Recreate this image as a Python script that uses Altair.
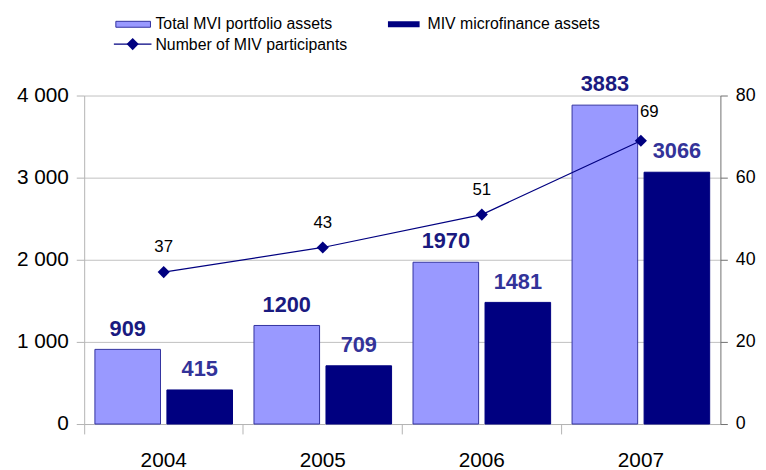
import altair as alt
import pandas as pd

years = ["2004", "2005", "2006", "2007"]
total_assets = [909, 1200, 1970, 3883]
micro_assets = [415, 709, 1481, 3066]
participants = [37, 43, 51, 69]
series_names = ["Total MVI portfolio assets", "MIV microfinance assets"]
line_name = "Number of MIV participants"

LIGHT = "#9999FF"
DARK = "#000080"
FONT = "Liberation Sans"

bars_df = pd.DataFrame(
    [{"year": y, "series": series_names[0], "value": v} for y, v in zip(years, total_assets)]
    + [{"year": y, "series": series_names[1], "value": v} for y, v in zip(years, micro_assets)]
)
line_df = pd.DataFrame({"year": years, "participants": participants})

x_enc = alt.X(
    "year:N",
    sort=years,
    scale=alt.Scale(paddingInner=0, paddingOuter=0),
    axis=alt.Axis(
        title=None, labelAngle=0, labelFontSize=21, labelColor="black", labelFont=FONT,
        bandPosition=0, tickSize=10, tickColor="#b3b3b3", domainColor="#b3b3b3",
        labelPadding=16, grid=False,
    ),
)
xoff = alt.XOffset("series:N", sort=series_names,
                   scale=alt.Scale(paddingInner=0.089, paddingOuter=0.149))

left_axis = alt.Axis(
    title=None, values=[0, 1000, 2000, 3000, 4000], labelFontSize=21, labelColor="black",
    labelFont=FONT, labelExpr="replace(format(datum.value, ','), ',', ' ')",
    tickSize=8, tickColor="#b3b3b3", domainColor="#b3b3b3", labelPadding=8,
    grid=True, gridColor="#c0c0c0",
)
right_axis = alt.Axis(
    title=None, orient="right", values=[0, 20, 40, 60, 80], labelFontSize=18,
    labelColor="black", labelFont=FONT, tickSize=7, tickColor="#6f6f6f",
    domainColor="#6f6f6f", labelPadding=8, grid=False,
)

bars_base = alt.Chart(bars_df).encode(
    x=x_enc,
    xOffset=xoff,
    y=alt.Y("value:Q", scale=alt.Scale(domain=[0, 4000]), axis=left_axis),
)

bars = bars_base.mark_bar(strokeWidth=1).encode(
    color=alt.Color("series:N", sort=series_names,
                    scale=alt.Scale(domain=series_names, range=[LIGHT, DARK]), legend=None),
    stroke=alt.Stroke("series:N", sort=series_names,
                      scale=alt.Scale(domain=series_names, range=["#3333a0", DARK]), legend=None),
)

bar_labels = bars_base.mark_text(
    baseline="bottom", dy=-9, fontSize=22, fontWeight="bold", font=FONT
).encode(
    text="value:Q",
    color=alt.condition(f"datum.series == '{series_names[0]}'", alt.value("#1a1a80"), alt.value("#333399")),
)

left = alt.layer(bars, bar_labels)

line_base = alt.Chart(line_df).encode(
    x=alt.X("year:N", sort=years),
    y=alt.Y("participants:Q", scale=alt.Scale(domain=[0, 80]), axis=right_axis),
)

line = line_base.mark_line(color=DARK, strokeWidth=1.2)
points = line_base.mark_point(shape="diamond", filled=True, color=DARK, size=150, opacity=1)
line_labels = line_base.transform_filter("datum.year != '2007'").mark_text(
    baseline="middle", dy=-25, fontSize=17, font=FONT, color="black"
).encode(text="participants:Q")
last_label = line_base.transform_filter("datum.year == '2007'").mark_text(
    baseline="middle", align="left", dy=-29, dx=-1, fontSize=17, font=FONT, color="black"
).encode(text="participants:Q")

right = alt.layer(line, points, line_labels, last_label)

one = alt.Data(values=[{}])
LEG_FS = 16
leg_rect1 = alt.Chart(one).mark_rect(color=LIGHT, stroke="#3333a0", strokeWidth=1).encode(
    x=alt.value(32), x2=alt.value(67), y=alt.value(-75), y2=alt.value(-69))
leg_text1 = alt.Chart(one).mark_text(align="left", baseline="middle", fontSize=LEG_FS, font=FONT, color="black").encode(
    x=alt.value(72), y=alt.value(-72), text=alt.value(series_names[0]))
leg_rect2 = alt.Chart(one).mark_rect(color=DARK).encode(
    x=alt.value(307), x2=alt.value(339), y=alt.value(-75), y2=alt.value(-69))
leg_text2 = alt.Chart(one).mark_text(align="left", baseline="middle", fontSize=LEG_FS, font=FONT, color="black").encode(
    x=alt.value(347), y=alt.value(-72), text=alt.value(series_names[1]))
leg_line = alt.Chart(one).mark_rule(color=DARK, strokeWidth=1.2).encode(
    x=alt.value(30), x2=alt.value(68), y=alt.value(-52))
leg_pt = alt.Chart(one).mark_point(shape="diamond", filled=True, color=DARK, size=150, opacity=1).encode(
    x=alt.value(49), y=alt.value(-52))
leg_text3 = alt.Chart(one).mark_text(align="left", baseline="middle", fontSize=LEG_FS, font=FONT, color="black").encode(
    x=alt.value(72), y=alt.value(-51), text=alt.value(line_name))

legend = alt.layer(leg_rect1, leg_text1, leg_rect2, leg_text2, leg_line, leg_pt, leg_text3)

chart = alt.layer(left, right, legend).resolve_scale(y="independent").resolve_axis(y="independent").properties(
    width=643, height=332,
    autosize=alt.AutoSizeParams(type="none"),
    padding={"left": 77, "top": 86, "right": 38, "bottom": 44},
    background="white",
).configure_view(stroke=None)

chart.save("out.html", embed_options={"renderer": "svg", "actions": False})
